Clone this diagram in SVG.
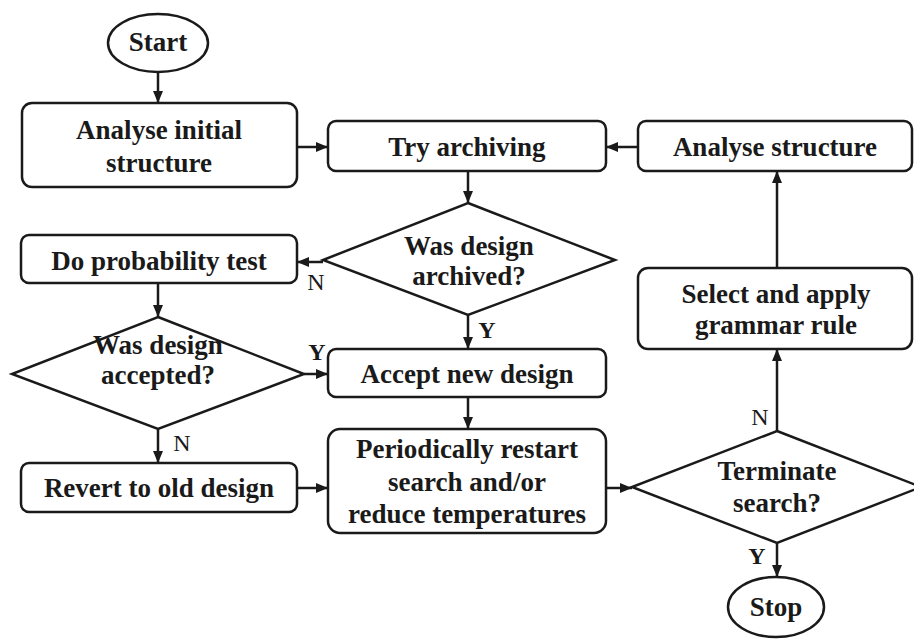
<svg xmlns="http://www.w3.org/2000/svg" width="914" height="639" viewBox="0 0 914 639">
<defs>
<marker id="ah" viewBox="0 0 12 10" refX="12" refY="5" markerWidth="12" markerHeight="10" markerUnits="userSpaceOnUse" orient="auto">
<path d="M0,0 L12,5 L0,10 Z" fill="#1a1a1a"/>
</marker>
</defs>
<style>
.box{fill:#fff;stroke:#1a1a1a;stroke-width:2.5}
.t{font-family:"Liberation Serif","Times New Roman",serif;font-weight:bold;font-size:27px;fill:#1a1a1a;text-anchor:middle}
.lbl{font-family:"Liberation Serif","Times New Roman",serif;font-size:24px;fill:#1a1a1a;text-anchor:middle}
.lb{font-weight:bold}
.c{fill:none;stroke:#1a1a1a;stroke-width:2.5;marker-end:url(#ah)}
</style>
<rect width="914" height="639" fill="#fff"/>
<g id="connectors">
<line class="c" x1="158" y1="72" x2="158" y2="103"/>
<line class="c" x1="297" y1="147" x2="328" y2="147"/>
<line class="c" x1="638" y1="147" x2="606" y2="147"/>
<line class="c" x1="468" y1="171" x2="468" y2="203"/>
<line class="c" x1="323" y1="262" x2="297" y2="262"/>
<line class="c" x1="158" y1="283" x2="158" y2="317"/>
<line class="c" x1="468" y1="315" x2="468" y2="349"/>
<line class="c" x1="304" y1="374" x2="328" y2="374"/>
<line class="c" x1="158" y1="429" x2="158" y2="463"/>
<line class="c" x1="468" y1="397" x2="468" y2="429"/>
<line class="c" x1="297" y1="488" x2="328" y2="488"/>
<line class="c" x1="606" y1="488" x2="632" y2="488"/>
<line class="c" x1="777" y1="431" x2="777" y2="349"/>
<line class="c" x1="777" y1="268" x2="777" y2="171"/>
<line class="c" x1="777" y1="543" x2="777" y2="577"/>
<text class="lbl" x="316" y="290">N</text>
<text class="lbl lb" x="487" y="338">Y</text>
<text class="lbl lb" x="317" y="360">Y</text>
<text class="lbl" x="182" y="451">N</text>
<text class="lbl" x="760" y="425">N</text>
<text class="lbl lb" x="757" y="564">Y</text>
</g>
<g id="start">
<ellipse class="box" cx="158" cy="43" rx="50" ry="29"/>
<text class="t" x="158" y="51">Start</text>
</g>
<g id="analyse-initial">
<rect class="box" x="22" y="103" width="275" height="84" rx="10"/>
<text class="t" x="159" y="139">Analyse initial</text>
<text class="t" x="159" y="172">structure</text>
</g>
<g id="try-archiving">
<rect class="box" x="328" y="121" width="278" height="50" rx="8"/>
<text class="t" x="467" y="156">Try archiving</text>
</g>
<g id="analyse-structure">
<rect class="box" x="638" y="121" width="274" height="50" rx="8"/>
<text class="t" x="775" y="156">Analyse structure</text>
</g>
<g id="was-archived">
<polygon class="box" points="468,203 615,260 468,315 323,260"/>
<text class="t" x="469" y="255">Was design</text>
<text class="t" x="469" y="285">archived?</text>
</g>
<g id="probability-test">
<rect class="box" x="21" y="235" width="276" height="48" rx="8"/>
<text class="t" x="159" y="270">Do probability test</text>
</g>
<g id="select-rule">
<rect class="box" x="638" y="268" width="274" height="81" rx="10"/>
<text class="t" x="776" y="303">Select and apply</text>
<text class="t" x="776" y="334">grammar rule</text>
</g>
<g id="was-accepted">
<polygon class="box" points="158,317 304,374 158,429 12,374"/>
<text class="t" x="158" y="354">Was design</text>
<text class="t" x="158" y="384">accepted?</text>
</g>
<g id="accept-new">
<rect class="box" x="328" y="349" width="278" height="48" rx="8"/>
<text class="t" x="467" y="383">Accept new design</text>
</g>
<g id="revert">
<rect class="box" x="21" y="463" width="276" height="49" rx="8"/>
<text class="t" x="159" y="497">Revert to old design</text>
</g>
<g id="restart">
<rect class="box" x="328" y="429" width="278" height="104" rx="12"/>
<text class="t" x="467" y="458">Periodically restart</text>
<text class="t" x="467" y="491">search and/or</text>
<text class="t" x="467" y="523">reduce temperatures</text>
</g>
<g id="terminate">
<polygon class="box" points="777,431 921,487 777,543 632,487"/>
<text class="t" x="777" y="480">Terminate</text>
<text class="t" x="777" y="512">search?</text>
</g>
<g id="stop">
<ellipse class="box" cx="776" cy="607" rx="48" ry="30"/>
<text class="t" x="776" y="616">Stop</text>
</g>
</svg>
